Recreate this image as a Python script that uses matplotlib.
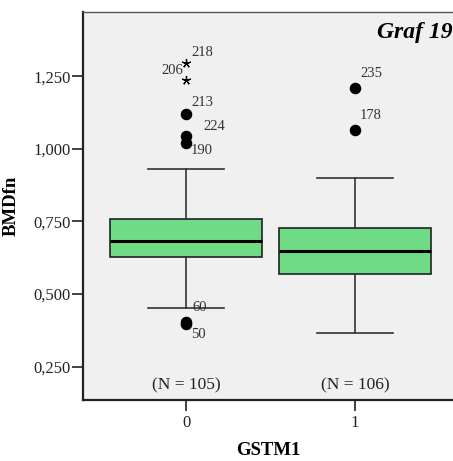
import matplotlib
matplotlib.use("Agg")
import matplotlib.pyplot as plt
from matplotlib.ticker import FixedLocator, FuncFormatter

groups = ["0", "1"]
counts = [105, 106]
q1 = [0.627, 0.570]
medians = [0.681, 0.647]
q3 = [0.759, 0.728]
whislo = [0.451, 0.366]
whishi = [0.932, 0.901]
outliers_circle = [[1.121, 1.043, 1.020, 0.405, 0.398], [1.211, 1.066]]
outlier_ids = [["213", "224", "190", "60", "50"], ["235", "178"]]
extreme_vals = [[1.296, 1.236], []]
extreme_ids = [["218", "206"], []]
yticks = [0.25, 0.5, 0.75, 1.0, 1.25]

serif = ["Liberation Serif", "DejaVu Serif"]
plt.rcParams['font.family'] = serif

fig = plt.figure(figsize=(4.53, 4.61), dpi=100)
ax = fig.add_axes([83/453, 1 - 400/461, 1 - 83/453, (400 - 12)/461])
ax.set_facecolor("#f0f0f0")

stats = []
for i in range(2):
    stats.append(dict(med=medians[i], q1=q1[i], q3=q3[i], whislo=whislo[i],
                      whishi=whishi[i], fliers=[], label=groups[i]))
ax.bxp(stats, positions=[0, 1], widths=0.895, patch_artist=True,
       boxprops=dict(facecolor="#6fdb85", edgecolor="#222222", linewidth=1.2),
       medianprops=dict(color="#000000", linewidth=2.2),
       whiskerprops=dict(color="#333333", linewidth=1.2),
       capprops=dict(color="#333333", linewidth=1.2),
       capwidths=0.45, showfliers=False, zorder=2)

# outliers (circles) and extremes (stars)
for i in range(2):
    ax.plot([i] * len(outliers_circle[i]), outliers_circle[i], 'o', color="black",
            markersize=7.3, zorder=3)
    for j in range(len(extreme_vals[i])):
        ax.plot(i, extreme_vals[i][j], marker=(5, 2), color="black", markersize=6.5,
                markeredgewidth=0.9, linestyle="none", zorder=3)

lbl = dict(fontsize=10.5, color="#333333", zorder=4)
# group 0 labels
ax.text(0.03, 1.138, outlier_ids[0][0], ha="left", va="bottom", **lbl)
ax.text(0.1, 1.056, outlier_ids[0][1], ha="left", va="bottom", **lbl)
ax.text(0.03, 1.017, outlier_ids[0][2], ha="left", va="top", **lbl)
ax.text(0.04, 0.455, outlier_ids[0][3], ha="left", va="center", **lbl)
ax.text(0.03, 0.382, outlier_ids[0][4], ha="left", va="top", **lbl)
ax.text(0.03, 1.308, extreme_ids[0][0], ha="left", va="bottom", **lbl)
ax.text(-0.02, 1.27, extreme_ids[0][1], ha="right", va="center", **lbl)
# group 1 labels
ax.text(1.03, 1.236, outlier_ids[1][0], ha="left", va="bottom", **lbl)
ax.text(1.03, 1.091, outlier_ids[1][1], ha="left", va="bottom", **lbl)

for i in range(2):
    ax.text(i, 0.185, f"(N = {counts[i]})", ha="center", va="center", fontsize=12.5,
            color="#222222")

ax.text(0.998, 0.975, "Graf 19", transform=ax.transAxes, ha="right", va="top",
        fontsize=17, fontweight="bold", fontstyle="italic", color="black")

ax.set_xlim(-0.61, 1.58)
ax.set_ylim(0.135, 1.471)
ax.yaxis.set_major_locator(FixedLocator(yticks))
ax.yaxis.set_major_formatter(FuncFormatter(lambda v, p: f"{v:,.3f}".replace(".", ";").replace(",", ".").replace(";", ",")))
ax.set_xticks([0, 1])
ax.set_xticklabels(groups)
ax.tick_params(axis="both", labelsize=12, colors="#222222", length=8, width=1.2, pad=1)
ax.tick_params(axis="x", pad=3)

for s in ["left", "bottom"]:
    ax.spines[s].set_linewidth(1.6)
    ax.spines[s].set_color("#222222")
ax.spines["top"].set_linewidth(1.0)
ax.spines["top"].set_color("#555555")
ax.spines["right"].set_visible(False)

ax.set_ylabel("BMDfn", fontsize=13.5, fontweight="bold", labelpad=10)
ax.set_xlabel("GSTM1", fontsize=13.5, fontweight="bold", labelpad=8)

fig.savefig("out.png", dpi=100)
